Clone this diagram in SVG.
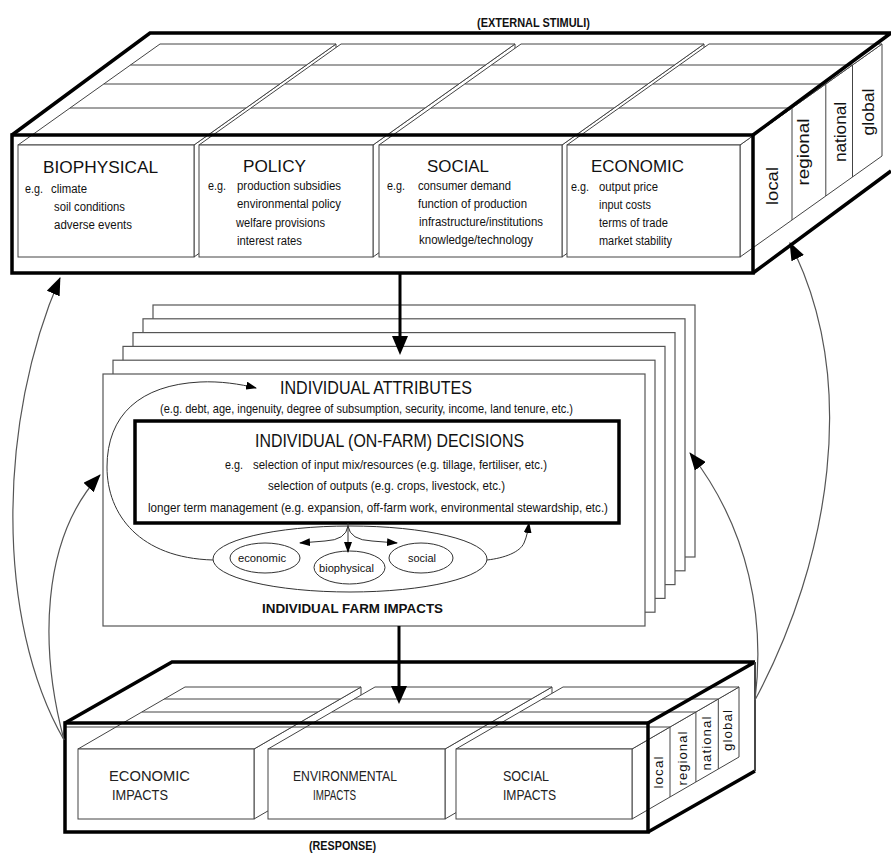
<svg xmlns="http://www.w3.org/2000/svg" width="891" height="853" viewBox="0 0 891 853">
<style>
text{font-family:"Liberation Sans",Arial,sans-serif;fill:#111}
.thin{fill:#fff;stroke:#444;stroke-width:1}
.ln{fill:none;stroke:#444;stroke-width:1}
.thick{fill:none;stroke:#000;stroke-width:3.5;stroke-linejoin:miter}
.stack{fill:#fff;stroke:#555;stroke-width:1.2}
.h17{font-size:17px}
.s12{font-size:12.5px}
.lay{font-size:17px}
.lay2{font-size:12.5px;letter-spacing:1px}
.imp{font-size:14px;fill:#222}
.curve{fill:none;stroke:#555;stroke-width:1.2}
.loop{fill:none;stroke:#333;stroke-width:1}
</style>
<defs>
<marker id="ah" markerUnits="userSpaceOnUse" markerWidth="18" markerHeight="14" refX="17" refY="7" orient="auto"><path d="M0,0 L18,7 L0,14 Z" fill="#000"/></marker>
<marker id="ahs" markerUnits="userSpaceOnUse" markerWidth="11" markerHeight="8" refX="10" refY="4" orient="auto"><path d="M0,0 L11,4 L0,8 Z" fill="#000"/></marker>
</defs>
<rect width="891" height="853" fill="#fff"/>

<text x="477" y="27" font-size="12" font-weight="bold" textLength="113" lengthAdjust="spacingAndGlyphs">(EXTERNAL STIMULI)</text>

<g id="stimuli-box">
<g id="biophysical">
<polygon class="thin" points="194,145 336,44 336,156 194,257"/>
<polygon class="thin" points="18,145 160,44 336,44 194,145"/>
<rect class="thin" x="18" y="145" width="176" height="112"/>
<path class="ln" d="M70,108H246M103.8,84H279.8M130.5,65H306.5"/>
<text class="h17" x="43" y="173" textLength="115" lengthAdjust="spacingAndGlyphs">BIOPHYSICAL</text>
<text class="s12" x="25" y="193" textLength="18" lengthAdjust="spacingAndGlyphs">e.g.</text>
<text class="s12" x="51" y="193" textLength="36" lengthAdjust="spacingAndGlyphs">climate</text>
<text class="s12" x="54" y="211" textLength="71" lengthAdjust="spacingAndGlyphs">soil conditions</text>
<text class="s12" x="54" y="229" textLength="78" lengthAdjust="spacingAndGlyphs">adverse events</text>
</g>
<g id="policy">
<polygon class="thin" points="373,145 515,44 515,156 373,257"/>
<polygon class="thin" points="199,145 341,44 515,44 373,145"/>
<rect class="thin" x="199" y="145" width="174" height="112"/>
<path class="ln" d="M251,108H425M284.8,84H458.8M311.5,65H485.5"/>
<text class="h17" x="243" y="172" textLength="63" lengthAdjust="spacingAndGlyphs">POLICY</text>
<text class="s12" x="208" y="190" textLength="18" lengthAdjust="spacingAndGlyphs">e.g.</text>
<text class="s12" x="237" y="190" textLength="104" lengthAdjust="spacingAndGlyphs">production subsidies</text>
<text class="s12" x="237" y="208" textLength="104" lengthAdjust="spacingAndGlyphs">environmental policy</text>
<text class="s12" x="236" y="227" textLength="89" lengthAdjust="spacingAndGlyphs">welfare provisions</text>
<text class="s12" x="237" y="245" textLength="65" lengthAdjust="spacingAndGlyphs">interest rates</text>
</g>
<g id="social">
<polygon class="thin" points="562,145 704,44 704,156 562,257"/>
<polygon class="thin" points="379,145 521,44 704,44 562,145"/>
<rect class="thin" x="379" y="145" width="183" height="112"/>
<path class="ln" d="M431,108H614M464.8,84H647.8M491.5,65H674.5"/>
<text class="h17" x="427" y="172" textLength="62" lengthAdjust="spacingAndGlyphs">SOCIAL</text>
<text class="s12" x="387" y="190" textLength="18" lengthAdjust="spacingAndGlyphs">e.g.</text>
<text class="s12" x="418" y="190" textLength="93" lengthAdjust="spacingAndGlyphs">consumer demand</text>
<text class="s12" x="418" y="208" textLength="109" lengthAdjust="spacingAndGlyphs">function of production</text>
<text class="s12" x="419" y="226" textLength="124" lengthAdjust="spacingAndGlyphs">infrastructure/institutions</text>
<text class="s12" x="419" y="244" textLength="114" lengthAdjust="spacingAndGlyphs">knowledge/technology</text>
</g>
<g id="economic">
<polygon class="thin" points="740,145 882,44 882,156 740,257"/>
<polygon class="thin" points="567,145 709,44 882,44 740,145"/>
<rect class="thin" x="567" y="145" width="173" height="112"/>
<path class="ln" d="M619,108H792M652.8,84H825.8M679.5,65H852.5M792,108V220M825.8,84V196M852.5,65V177"/>
<text class="h17" x="591" y="172" textLength="93" lengthAdjust="spacingAndGlyphs">ECONOMIC</text>
<text class="s12" x="571" y="191" textLength="18" lengthAdjust="spacingAndGlyphs">e.g.</text>
<text class="s12" x="599" y="191" textLength="59" lengthAdjust="spacingAndGlyphs">output price</text>
<text class="s12" x="599" y="209" textLength="52" lengthAdjust="spacingAndGlyphs">input costs</text>
<text class="s12" x="599" y="227" textLength="69" lengthAdjust="spacingAndGlyphs">terms of trade</text>
<text class="s12" x="599" y="245" textLength="73" lengthAdjust="spacingAndGlyphs">market stability</text>
</g>
<g id="stimuli-frame">
<path class="thick" d="M12,135L150,33H891M753,135L891,33M753,273L891,171"/>
<rect class="thick" x="12" y="135" width="741" height="138"/>
</g>
<g id="stimuli-scales">
<text class="lay" transform="translate(772,186) rotate(-90)" text-anchor="middle" dominant-baseline="central" textLength="38" lengthAdjust="spacingAndGlyphs">local</text>
<text class="lay" transform="translate(803,152) rotate(-90)" text-anchor="middle" dominant-baseline="central" textLength="67" lengthAdjust="spacingAndGlyphs">regional</text>
<text class="lay" transform="translate(840,132) rotate(-90)" text-anchor="middle" dominant-baseline="central" textLength="60" lengthAdjust="spacingAndGlyphs">national</text>
<text class="lay" transform="translate(868,112) rotate(-90)" text-anchor="middle" dominant-baseline="central" textLength="47" lengthAdjust="spacingAndGlyphs">global</text>
</g>
</g>

<g id="farm-stack">
<rect class="stack" x="153" y="305" width="542" height="252"/>
<rect class="stack" x="143" y="318.8" width="542" height="252"/>
<rect class="stack" x="133" y="332.6" width="542" height="252"/>
<rect class="stack" x="123" y="346.4" width="542" height="252"/>
<rect class="stack" x="113" y="360.2" width="542" height="252"/>
<rect class="stack" x="103" y="374" width="542" height="252"/>
</g>

<g id="attributes">
<text x="280" y="394" font-size="19" textLength="192" lengthAdjust="spacingAndGlyphs">INDIVIDUAL ATTRIBUTES</text>
<text x="160" y="413" font-size="13" textLength="413" lengthAdjust="spacingAndGlyphs">(e.g. debt, age, ingenuity, degree of subsumption, security, income, land tenure, etc.)</text>
</g>

<g id="decisions">
<rect x="135" y="421" width="484" height="102" fill="#fff" stroke="#000" stroke-width="3.5"/>
<text x="255" y="447" font-size="19" textLength="269" lengthAdjust="spacingAndGlyphs">INDIVIDUAL (ON-FARM) DECISIONS</text>
<text x="225" y="469" font-size="13" textLength="18" lengthAdjust="spacingAndGlyphs">e.g.</text>
<text x="253" y="469" font-size="13" textLength="294" lengthAdjust="spacingAndGlyphs">selection of input mix/resources (e.g. tillage, fertiliser, etc.)</text>
<text x="268" y="490" font-size="13" textLength="237" lengthAdjust="spacingAndGlyphs">selection of outputs (e.g. crops, livestock, etc.)</text>
<text x="148" y="512" font-size="13" textLength="460" lengthAdjust="spacingAndGlyphs">longer term management (e.g. expansion, off-farm work, environmental stewardship, etc.)</text>
</g>

<g id="farm-impacts">
<ellipse cx="350" cy="559" rx="137" ry="33" fill="#fff" stroke="#333" stroke-width="1"/>
<ellipse cx="265" cy="558" rx="35" ry="15" fill="none" stroke="#333" stroke-width="1"/>
<ellipse cx="349.5" cy="567.5" rx="35.5" ry="16.5" fill="none" stroke="#333" stroke-width="1"/>
<ellipse cx="421" cy="558" rx="32" ry="15" fill="none" stroke="#333" stroke-width="1"/>
<text x="238" y="562" font-size="11.5" textLength="48" lengthAdjust="spacingAndGlyphs">economic</text>
<text x="319" y="572" font-size="11.5" textLength="55" lengthAdjust="spacingAndGlyphs">biophysical</text>
<text x="408" y="562" font-size="11.5" textLength="28" lengthAdjust="spacingAndGlyphs">social</text>
<text x="262" y="613" font-size="13.5" font-weight="bold" textLength="181" lengthAdjust="spacingAndGlyphs">INDIVIDUAL FARM IMPACTS</text>
</g>

<g id="response-box">
<g id="economic-impacts">
<polygon class="thin" points="254,749 361,687 361,757 254,819"/>
<polygon class="thin" points="78,749 185,687 361,687 254,749"/>
<rect class="thin" x="78" y="749" width="176" height="70"/>
<path class="ln" d="M141.9,712H317.9M164.3,699H340.3"/>
<text class="imp" x="109" y="781" textLength="81" lengthAdjust="spacingAndGlyphs">ECONOMIC</text>
<text class="imp" x="112" y="800" textLength="56" lengthAdjust="spacingAndGlyphs">IMPACTS</text>
</g>
<g id="environmental-impacts">
<polygon class="thin" points="445,749 552,687 552,757 445,819"/>
<polygon class="thin" points="268,749 375,687 552,687 445,749"/>
<rect class="thin" x="268" y="749" width="177" height="70"/>
<path class="ln" d="M331.9,712H508.9M354.3,699H531.3"/>
<text class="imp" x="293" y="781" font-size="13" textLength="104" lengthAdjust="spacingAndGlyphs">ENVIRONMENTAL</text>
<text class="imp" x="313" y="800" font-size="13" textLength="43" lengthAdjust="spacingAndGlyphs">IMPACTS</text>
</g>
<g id="social-impacts">
<polygon class="thin" points="632,749 739,687 739,757 632,819"/>
<polygon class="thin" points="456,749 563,687 739,687 632,749"/>
<rect class="thin" x="456" y="749" width="176" height="70"/>
<path class="ln" d="M519.9,712H695.9M542.3,699H718.3M670,727V797M695.9,712V782M718.3,699V769"/>
<text class="imp" x="503" y="781" textLength="46" lengthAdjust="spacingAndGlyphs">SOCIAL</text>
<text class="imp" x="503" y="800" textLength="53" lengthAdjust="spacingAndGlyphs">IMPACTS</text>
</g>
<path class="ln" d="M66,727H670"/>
<g id="response-frame">
<path class="thick" d="M65,723L172,662H755M648,723L755,662M648,832L755,771"/>
<path d="M755,662V771" stroke="#333" stroke-width="1.8" fill="none"/>
<rect class="thick" x="65" y="723" width="583" height="109"/>
</g>
<g id="response-scales">
<text class="lay2" transform="translate(659,772) rotate(-90)" text-anchor="middle" dominant-baseline="central" textLength="33" lengthAdjust="spacingAndGlyphs">local</text>
<text class="lay2" transform="translate(683,758) rotate(-90)" text-anchor="middle" dominant-baseline="central" textLength="55" lengthAdjust="spacingAndGlyphs">regional</text>
<text class="lay2" transform="translate(707,743) rotate(-90)" text-anchor="middle" dominant-baseline="central" textLength="55" lengthAdjust="spacingAndGlyphs">national</text>
<text class="lay2" transform="translate(728,730) rotate(-90)" text-anchor="middle" dominant-baseline="central" textLength="42" lengthAdjust="spacingAndGlyphs">global</text>
</g>
</g>
<text x="309" y="850" font-size="12" font-weight="bold" textLength="67" lengthAdjust="spacingAndGlyphs">(RESPONSE)</text>

<g id="connectors">
<path d="M400,273V338" stroke="#000" stroke-width="3" fill="none"/>
<polygon points="392,336 408,336 400,355" fill="#000"/>
<path d="M399,626V688" stroke="#000" stroke-width="3" fill="none"/>
<polygon points="391,686 407,686 399,704" fill="#000"/>
<path class="curve" d="M64,740 C-5,620 -2,420 60,278" marker-end="url(#ah)"/>
<path class="curve" d="M64,740 C40,650 40,540 100,475" marker-end="url(#ah)"/>
<path class="curve" d="M755,700 C830,560 860,380 790,243" marker-end="url(#ah)"/>
<path class="curve" d="M755,700 C765,620 750,530 690,453" marker-end="url(#ah)"/>
<path class="loop" d="M213,560 C140,558 107,515 107,467 C107,415 140,385 200,382 C220,381 240,384 256,388" marker-end="url(#ahs)"/>
<path class="loop" d="M487,560 C505,558 520,552 524,543 C527,536 528,530 529,523" marker-end="url(#ahs)"/>
<path class="loop" d="M348,523 V552" marker-end="url(#ahs)"/>
<path class="loop" d="M348,526 Q346,540 325,541 L300,543" marker-end="url(#ahs)"/>
<path class="loop" d="M348,526 Q350,540 372,541 L397,543" marker-end="url(#ahs)"/>
</g>
</svg>
